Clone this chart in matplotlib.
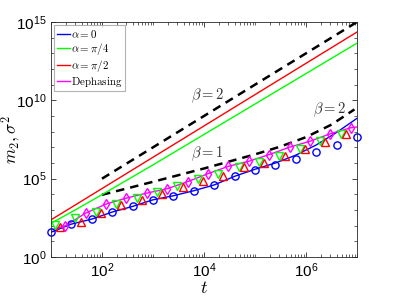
import numpy as np
import matplotlib
matplotlib.use("Agg")
import matplotlib.pyplot as plt
from matplotlib.ticker import FixedLocator, NullFormatter

plt.rcParams['font.family'] = ['Liberation Sans', 'DejaVu Sans']
plt.rcParams['mathtext.fontset'] = 'cm'

# ---- data (log10 values) ----
# alpha = 0 : sigma^2 (circles)
blue_circ_lt = [1.0, 1.4, 1.8, 2.2, 2.6, 3.0, 3.4, 3.8, 4.2, 4.6, 5.0, 5.4, 5.8, 6.2, 6.6, 7.0]
blue_circ_ly = [1.58, 2.10, 2.42, 2.87, 3.23, 3.65, 3.91, 4.23, 4.60, 5.15, 5.58, 5.90, 6.28, 6.71, 7.18, 7.65]
# alpha = 0 : m2 (line)
blue_line_lt = [1.0, 1.4, 1.8, 2.2, 2.6, 3.0, 3.4, 3.8, 4.2, 4.6, 5.0, 5.4, 5.8, 6.2, 6.6, 7.0]
blue_line_ly = [1.58, 2.10, 2.42, 2.87, 3.23, 3.65, 3.91, 4.23, 4.60, 5.15, 5.60, 6.00, 6.50, 7.15, 7.95, 8.85]
# alpha = pi/4 : sigma^2 (down triangles)
green_tri_lt = [1.08, 1.48, 1.88, 2.28, 2.68, 3.08, 3.48, 3.88, 4.28, 4.68, 5.08, 5.48, 5.88, 6.28, 6.68]
green_tri_ly = [2.05, 2.48, 2.87, 3.38, 3.76, 4.15, 4.55, 4.98, 5.32, 5.75, 6.07, 6.43, 6.92, 7.39, 7.88]
# alpha = pi/4 : m2 (line)
green_line_lt = [1.0, 1.5, 2.0, 2.5, 3.0, 3.5, 7.0]
green_line_ly = [2.15, 3.05, 3.98, 4.93, 5.88, 6.85, 13.65]
# alpha = pi/2 : sigma^2 (up triangles)
red_tri_lt = [1.18, 1.58, 1.98, 2.38, 2.78, 3.18, 3.58, 3.98, 4.38, 4.78, 5.18, 5.58, 5.98, 6.38, 6.78]
red_tri_ly = [1.90, 2.26, 2.80, 3.33, 3.65, 4.04, 4.49, 4.83, 5.19, 5.72, 6.01, 6.43, 6.92, 7.33, 7.82]
# alpha = pi/2 : m2 (line)
red_line_lt = [1.0, 7.0]
red_line_ly = [2.37, 14.36]
# dephasing (diamonds + line)
mag_lt = [1.28, 1.68, 2.08, 2.48, 2.88, 3.28, 3.68, 4.08, 4.48, 4.88, 5.28, 5.68, 6.08, 6.48, 6.88]
mag_ly = [1.99, 2.80, 3.38, 3.76, 4.08, 4.36, 4.81, 5.32, 5.79, 6.11, 6.54, 7.01, 7.39, 7.87, 8.25]
mag_line_lt = [1.0] + mag_lt + [7.0]
mag_line_ly = [1.73] + mag_ly + [8.3]
# guide lines
guide_up_lt = [2.0, 7.0]
guide_up_ly = [5.0, 15.0]
guide_low_lt = [2.0, 3.0, 4.0, 5.0, 5.5, 6.0, 6.5, 6.95]
guide_low_ly = [3.97, 4.80, 5.65, 6.55, 7.05, 7.65, 8.45, 9.42]

legend_labels = [r'$\alpha=0$', r'$\alpha=\pi/4$', r'$\alpha=\pi/2$', r'$\mathrm{Dephasing}$']

def p(a):
    return 10.0 ** np.asarray(a)

fig = plt.figure(figsize=(3.95, 3.05), dpi=100)
ax = fig.add_axes([51/395, 1-257/305, 306/395, 235/305])

BLUE, GREEN, RED, MAG = (0, 0, 1), (0, 1, 0), (1, 0, 0), (1, 0, 1)
lw = 1.0
ms = 5.2

ax.plot(p(guide_up_lt), p(guide_up_ly), '--', color='k', lw=1.8, dashes=(3.4, 2.4))
ax.plot(p(guide_low_lt), p(guide_low_ly), '--', color='k', lw=1.8, dashes=(3.4, 2.4))

l0, = ax.plot(p(blue_line_lt), p(blue_line_ly), color=BLUE, lw=lw)
l1, = ax.plot(p(green_line_lt), p(green_line_ly), color=GREEN, lw=lw)
l2, = ax.plot(p(red_line_lt), p(red_line_ly), color=RED, lw=lw)
l3, = ax.plot(p(mag_line_lt), p(mag_line_ly), color=MAG, lw=lw)

ax.plot(p(blue_circ_lt), p(blue_circ_ly), 'o', mfc='none', mec=BLUE, ms=ms, mew=1.0, clip_on=False)
ax.plot(p(green_tri_lt), p(green_tri_ly), 'v', mfc='none', mec=GREEN, ms=ms+0.6, mew=1.0, clip_on=False)
ax.plot(p(red_tri_lt), p(red_tri_ly), '^', mfc='none', mec=RED, ms=ms+0.6, mew=1.0, clip_on=False)
ax.plot(p(mag_lt), p(mag_ly), 'd', mfc='none', mec=MAG, ms=ms, mew=1.0, clip_on=False)

ax.set_xscale('log')
ax.set_yscale('log')
ax.set_xlim(1e1, 1e7)
ax.set_ylim(1e0, 1e15)

ax.xaxis.set_major_locator(FixedLocator([1e2, 1e4, 1e6]))
xminor = [m * 10.0**e for e in range(1, 7) for m in range(1, 10) if m * 10.0**e not in (1e2, 1e4, 1e6)] + [1e7]
ax.xaxis.set_minor_locator(FixedLocator(xminor))
ax.xaxis.set_minor_formatter(NullFormatter())
ax.set_xticklabels([r'$\mathregular{10^{2}}$', r'$\mathregular{10^{4}}$', r'$\mathregular{10^{6}}$'])

ax.yaxis.set_major_locator(FixedLocator([1e0, 1e5, 1e10, 1e15]))
ax.yaxis.set_minor_locator(FixedLocator([10.0**e for e in range(1, 15) if e % 5 != 0]))
ax.yaxis.set_minor_formatter(NullFormatter())
ax.set_yticklabels([r'$\mathregular{10^{0}}$', r'$\mathregular{10^{5}}$', r'$\mathregular{10^{10}}$', r'$\mathregular{10^{15}}$'])

ax.tick_params(which='both', direction='in', top=True, right=True, colors='#262626', labelcolor='k')
ax.tick_params(which='major', length=3.5, width=0.6, labelsize=11, pad=3)
ax.tick_params(which='minor', length=2.0, width=0.5)
for s in ax.spines.values():
    s.set_linewidth(0.6)
    s.set_color('#262626')

ax.set_xlabel(r'$t$', fontsize=13, labelpad=0)
ax.set_ylabel(r'$m_2, \sigma^2$', fontsize=12.5)
ax.yaxis.set_label_coords(-28/306, 0.5)

ax.text(p(4.07)[()], p(10.3)[()], r'$\beta=2$', fontsize=10.5, ha='center', va='center', color='#333333')
ax.text(p(4.07)[()], p(6.6)[()], r'$\beta=1$', fontsize=10.5, ha='center', va='center', color='#333333')
ax.text(p(6.46)[()], p(9.4)[()], r'$\beta=2$', fontsize=10.5, ha='center', va='center', color='#333333')

leg = ax.legend([l0, l1, l2, l3], legend_labels, loc='upper left', fontsize=7.9,
                handlelength=1.15, handletextpad=0.12, borderpad=0.25, labelspacing=0.08,
                borderaxespad=0.3, frameon=True, fancybox=False)
leg.get_frame().set_edgecolor('#a0a0a0')
leg.get_frame().set_linewidth(0.8)

fig.savefig('out.png', dpi=100)
